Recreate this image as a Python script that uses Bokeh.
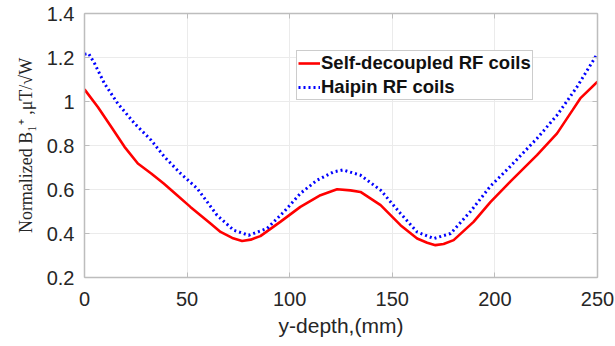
from bokeh.plotting import figure
from bokeh.models import LinearAxis, Legend, LegendItem, FixedTicker, Range1d
from bokeh.embed import file_html
from bokeh.resources import INLINE

# Normalized B1+ along the y-depth for the two coil designs
self_x = [0, 6.5, 13, 19.5, 26, 32.5, 38.6, 45, 51.6, 56.5, 61.4, 66.3, 72, 76.8,
          81, 85.7, 95.4, 105.2, 115, 123.1, 129.6, 134.5, 144.3, 154, 162.1,
          167, 171, 175, 179.9, 189.6, 197.8, 207.5, 220.5, 230.3, 238, 241.6,
          250]
self_y = [1.055, 0.975, 0.885, 0.794, 0.718, 0.673, 0.627, 0.575, 0.521, 0.483,
          0.445, 0.407, 0.380, 0.366, 0.372, 0.388, 0.453, 0.521, 0.574, 0.601,
          0.596, 0.589, 0.529, 0.438, 0.377, 0.358, 0.347, 0.352, 0.370, 0.453,
          0.543, 0.636, 0.756, 0.855, 0.963, 1.014, 1.090]

hair_x = [0, 2, 4.9, 9.7, 16.2, 24.4, 32.5, 39, 46.8, 54.9, 60, 64.6, 72.7, 80,
          89, 97.1, 105.2, 113.3, 121.4, 126, 134.5, 144.3, 154, 162.1, 170.2,
          178.4, 188.1, 197.8, 207.5, 220.5, 230.3, 240, 250]
hair_y = [1.215, 1.218, 1.173, 1.082, 0.991, 0.900, 0.824, 0.748, 0.673, 0.605,
          0.541, 0.483, 0.415, 0.392, 0.423, 0.498, 0.582, 0.642, 0.680, 0.689,
          0.665, 0.597, 0.491, 0.407, 0.377, 0.400, 0.500, 0.615, 0.705, 0.832,
          0.938, 1.066, 1.218]

x_ticks = [0, 50, 100, 150, 200, 250]
y_ticks = [0.2, 0.4, 0.6, 0.8, 1.0, 1.2, 1.4]
y_tick_labels = ["0.2", "0.4", "0.6", "0.8", "1", "1.2", "1.4"]

AX = "#bdbdbd"
TXT = "#262626"
FONT = "Liberation Sans"

p = figure(width=615, height=346, output_backend="svg", toolbar_location=None,
           x_range=Range1d(0, 250), y_range=Range1d(0.2, 1.4),
           min_border_left=84, min_border_right=18, min_border_top=13,
           min_border_bottom=69, x_axis_label="y-depth,(mm)",
           y_axis_label="Normalized B\u2081\u207a ,\u03bcT/\u221aW")
p.outline_line_color = None
p.background_fill_color = "white"
p.border_fill_color = "white"

r1 = p.line(self_x, self_y, line_color="#ff0000", line_width=2.6)
r2 = p.line(hair_x, hair_y, line_color="#0000ff", line_width=3,
            line_dash="2 3")

p.xaxis.ticker = FixedTicker(ticks=x_ticks)
p.yaxis.ticker = FixedTicker(ticks=y_ticks)
p.yaxis.major_label_overrides = {t: s for t, s in zip(y_ticks, y_tick_labels)}

for g in (p.xgrid, p.ygrid):
    g.grid_line_color = "#ebebeb"
    g.grid_line_width = 1
p.xgrid.ticker = FixedTicker(ticks=x_ticks)
p.ygrid.ticker = FixedTicker(ticks=y_ticks)

for ax in (p.xaxis[0], p.yaxis[0]):
    ax.axis_line_color = AX
    ax.axis_line_width = 1.5
    ax.major_tick_line_color = AX
    ax.major_tick_in = 5
    ax.major_tick_out = 0
    ax.minor_tick_line_color = None
    ax.major_label_text_font = FONT
    ax.major_label_text_font_size = "20px"
    ax.major_label_text_color = TXT
    ax.axis_label_text_font_style = "normal"
    ax.axis_label_text_color = TXT

p.xaxis.axis_label_text_font = FONT
p.xaxis.axis_label_text_font_size = "21px"
p.xaxis.axis_label_standoff = 5
p.xaxis.major_label_standoff = 14
p.yaxis.axis_label_text_font = "Liberation Serif"
p.yaxis.axis_label_text_font_size = "18px"
p.yaxis.axis_label_standoff = 8
p.yaxis.major_label_standoff = 10

# box edges with inward ticks
top = LinearAxis(ticker=FixedTicker(ticks=x_ticks))
right = LinearAxis(ticker=FixedTicker(ticks=y_ticks))
for ax in (top, right):
    ax.axis_line_color = AX
    ax.axis_line_width = 1.5
    ax.major_tick_line_color = AX
    ax.major_tick_in = 5
    ax.major_tick_out = 0
    ax.minor_tick_line_color = None
    ax.major_label_text_color = None
    ax.major_label_text_font_size = "0px"
    ax.major_label_standoff = 0
p.add_layout(top, "above")
p.add_layout(right, "right")

legend = Legend(items=[LegendItem(label="Self-decoupled RF coils", renderers=[r1]),
                       LegendItem(label="Haipin RF coils", renderers=[r2])],
                location=(212, 177))
legend.label_text_font = FONT
legend.label_text_font_style = "bold"
legend.label_text_font_size = "18.5px"
legend.label_text_color = "#111111"
legend.border_line_color = "#9a9a9a"
legend.border_line_width = 1
legend.background_fill_alpha = 1
legend.glyph_width = 22
legend.glyph_height = 22
legend.label_height = 22
legend.label_standoff = 1
legend.padding = 1
legend.spacing = 2
legend.margin = 0
p.add_layout(legend, "center")

open("out.html", "w").write(file_html(p, INLINE))
